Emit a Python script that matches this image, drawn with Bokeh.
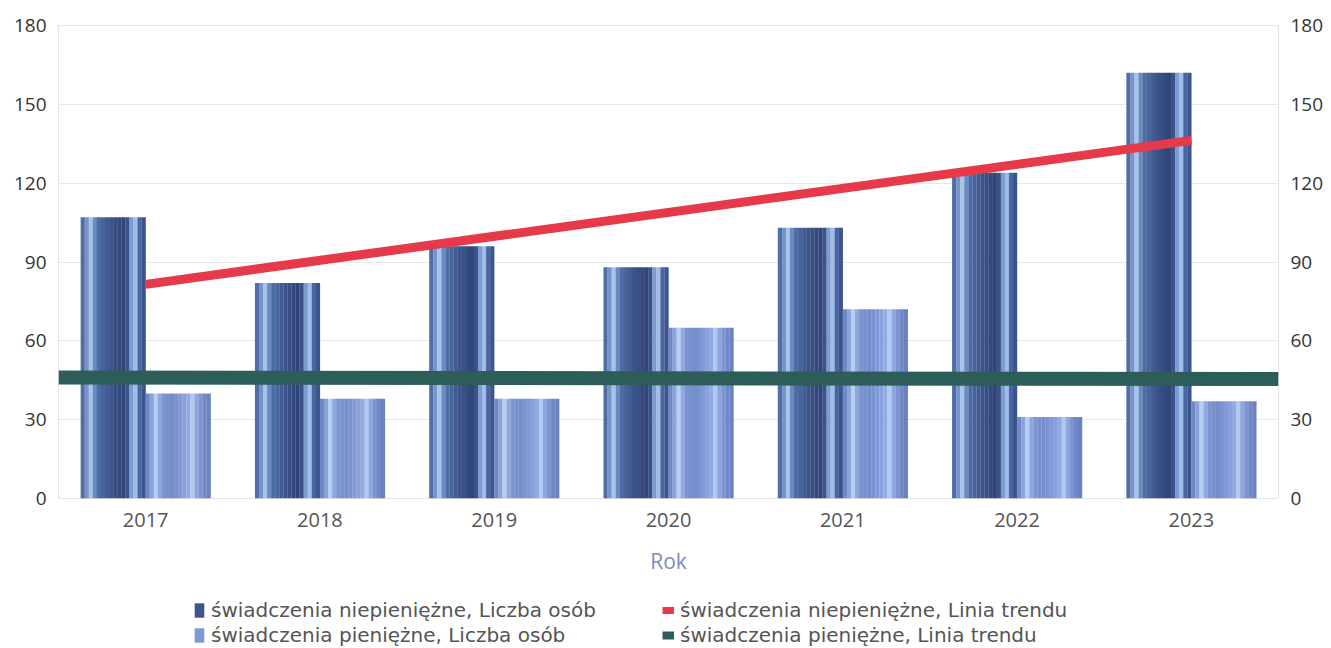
import numpy as np
from bokeh.plotting import figure
from bokeh.layouts import column
from bokeh.models import Range1d, LinearAxis, FixedTicker, Legend, LegendItem
from bokeh.embed import file_html
from bokeh.resources import INLINE

# ---- data ----
years = ["2017", "2018", "2019", "2020", "2021", "2022", "2023"]
niepieniezne = [107, 82, 96, 88, 103, 124, 162]     # świadczenia niepieniężne, Liczba osób
pieniezne = [40, 38, 38, 65, 72, 31, 37]            # świadczenia pieniężne, Liczba osób
trend_niep_x = ["2017", "2023"]
trend_niep = [81.5, 136.3]                            # Linia trendu (niepieniężne)
trend_pien_x = ["2016.5", "2023.5"]
trend_pien = [46.0, 45.5]                             # Linia trendu (pieniężne)
y_ticks = [0, 30, 60, 90, 120, 150, 180]

label_niep = "świadczenia niepieniężne, Liczba osób"
label_pien = "świadczenia pieniężne, Liczba osób"
label_tn = "świadczenia niepieniężne, Linia trendu"
label_tp = "świadczenia pieniężne, Linia trendu"

# ---- style ----
dark_shades = ["#4f6ea6", "#7594c8", "#a8c2ea", "#6a8bc0", "#4e6ca4", "#47649c", "#415b93", "#3c548a",
               "#384f83", "#34497c", "#314576", "#3a5289", "#7c9bd0", "#a0bce8", "#4a66a0", "#3d558e"]
light_shades = ["#7089c5", "#8aa3da", "#b8cdf2", "#90a8de", "#7c95d1", "#7890cc", "#748ccb", "#7a93d0",
                "#8199d6", "#8aa2dc", "#93abe2", "#b4c9f0", "#8ea6dd", "#7c95d2", "#7089c6", "#6a83c0"]
RED = "#e63a4b"
GREEN = "#2d5d58"
bar_w = 0.373

p = figure(frame_width=1220, frame_height=473, output_backend="svg", toolbar_location=None,
           x_range=Range1d(-0.5, 6.5), y_range=Range1d(0, 180),
           min_border_left=58, min_border_right=45, min_border_top=25, min_border_bottom=90)
p.background_fill_color = "white"
p.border_fill_color = "white"
p.outline_line_color = "#e4e4e4"

idx = np.arange(len(years))

def draw_bars(values, offset, shades):
    n = len(shades)
    for k, c in enumerate(shades):
        left = idx + offset - bar_w / 2 + k * bar_w / n
        p.quad(left=left, right=left + bar_w / n + 0.001, bottom=0, top=values,
               fill_color=c, line_color=None)

draw_bars(niepieniezne, -bar_w / 2, dark_shades)
draw_bars(pieniezne, bar_w / 2, light_shades)

xn = [years.index(y) for y in trend_niep_x]
p.line(xn, trend_niep, line_color=RED, line_width=9)
xp = [float(v) - 2017 for v in trend_pien_x]
p.line(xp, trend_pien, line_color=GREEN, line_width=14)

# axes
p.xaxis.ticker = FixedTicker(ticks=list(idx))
p.xaxis.major_label_overrides = {int(i): y for i, y in zip(idx, years)}
p.xaxis.axis_label = "Rok"
p.xaxis.axis_label_text_color = "#7b8cbc"
p.xaxis.axis_label_text_font = "Open Sans"
p.xaxis.axis_label_text_font_style = "normal"
p.xaxis.axis_label_text_font_size = "21px"
p.xaxis.axis_label_standoff = 17
p.xaxis.major_label_text_font = "Open Sans"
p.xaxis.major_label_text_font_size = "20px"
p.xaxis.major_label_text_color = "#555555"
p.xaxis.major_label_standoff = 14

p.yaxis.ticker = FixedTicker(ticks=y_ticks)
right = LinearAxis(ticker=FixedTicker(ticks=y_ticks))
p.add_layout(right, "right")
for ax in p.yaxis + p.xaxis:
    ax.axis_line_color = None
    ax.major_tick_line_color = None
    ax.minor_tick_line_color = None
    ax.major_tick_out = 0
    ax.major_tick_in = 0
for ax in p.yaxis:
    ax.major_label_text_font = "Open Sans"
    ax.major_label_text_font_size = "19px"
    ax.major_label_text_color = "#333333"
    ax.major_label_standoff = 12

p.xgrid.grid_line_color = None
p.ygrid.ticker = FixedTicker(ticks=y_ticks)
p.ygrid.grid_line_color = "#e8e8e8"

# ---- legend strip (legend-only glyphs kept outside the visible range) ----
lf = figure(width=1331, height=60, output_backend="svg", toolbar_location=None,
            x_range=Range1d(0, 1), y_range=Range1d(0, 1), x_axis_type=None, y_axis_type=None,
            min_border=0)
lf.outline_line_color = None
lf.grid.grid_line_color = None
lf.background_fill_color = "white"
lf.border_fill_color = "white"
g_dark = lf.quad(left=[5], right=[6], top=[6], bottom=[5], fill_color="#3d558c", line_color=None)
g_light = lf.quad(left=[5], right=[6], top=[6], bottom=[5], fill_color="#7f98d4", line_color=None)
g_red = lf.line(x=[5, 6], y=[5, 5], line_color=RED, line_width=7)
g_green = lf.line(x=[5, 6], y=[5, 5], line_color=GREEN, line_width=8)

legend = Legend(items=[
    LegendItem(label=label_niep, renderers=[g_dark]),
    LegendItem(label=label_tn, renderers=[g_red]),
    LegendItem(label=label_pien, renderers=[g_light]),
    LegendItem(label=label_tp, renderers=[g_green]),
], ncols=2, orientation="horizontal", location=(135, 1))
legend.label_text_font = "DejaVu Sans"
legend.label_text_font_size = "20px"
legend.label_text_color = "#555555"
legend.glyph_width = 12
legend.glyph_height = 18
legend.spacing = 1
legend.padding = 2
legend.margin = 0
legend.label_standoff = 6
legend.label_height = 20
legend.label_width = 450
legend.border_line_color = None
legend.background_fill_alpha = 0
lf.add_layout(legend)

layout = column(p, lf, spacing=0)
open("out.html", "w").write(file_html(layout, INLINE))
